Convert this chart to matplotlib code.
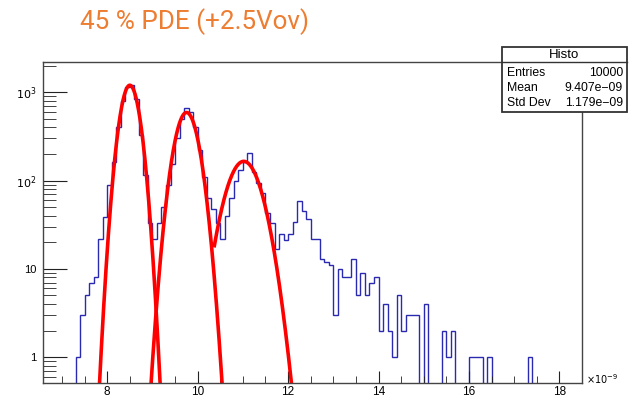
import numpy as np
import matplotlib
matplotlib.use("Agg")
import matplotlib.pyplot as plt
from matplotlib.patches import Rectangle
from matplotlib.lines import Line2D
from matplotlib.ticker import FixedLocator, FixedFormatter, MultipleLocator

# histogram: 0.1 wide bins starting at 7.3 (x 1e-9)
bin_start = 7.3
bin_width = 0.1
counts = [
    1, 3, 5, 7, 8, 22, 39, 88, 162, 400,          # 7.3 - 8.2
    800, 1150, 1200, 840, 330, 115, 33, 22, 33, 50,  # 8.3 - 9.2
    89, 155, 300, 500, 665, 590, 405, 220, 110, 63,  # 9.3 - 10.2
    48, 33, 22, 40, 63, 98, 131, 163, 205, 125,      # 10.3 - 11.2
    93, 72, 43, 33, 17, 25, 21, 25, 34, 58,          # 11.3 - 12.2
    45, 37, 22, 22, 13, 12, 11, 3, 10, 8,            # 12.3 - 13.2
    8, 13, 5, 9, 5, 7, 8, 2, 4, 2,                   # 13.3 - 14.2
    1, 5, 2, 3, 3, 3, 0, 4, 0, 0,                    # 14.3 - 15.2
    0, 2, 1, 2, 0, 0, 0, 1, 1, 1,                    # 15.3 - 16.2
    0, 1, 0, 0, 0, 0, 0, 0, 0, 0,                    # 16.3 - 17.2
    1,                                               # 17.3
]

# gaussian fits: constant, mean, sigma, fit range
fit_const = [1200, 590, 165]
fit_mean = [8.50, 9.755, 11.02]
fit_sigma = [0.170, 0.209, 0.31]
fit_lo = [7.5, 8.7, 10.37]
fit_hi = [9.5, 11.0, 12.6]

xticks = [8, 10, 12, 14, 16, 18]
yticks = [1, 10, 100, 1000]
ytick_labels = ["1", "10", "$10^{2}$", "$10^{3}$"]

title = "45 % PDE (+2.5Vov)"
stats_name = "Histo"
stats_rows = [("Entries", "10000"), ("Mean", "9.407e\u221209"), ("Std Dev", "1.179e\u221209")]

W, H = 634, 400
fig = plt.figure(figsize=(W / 100, H / 100), dpi=100)


def fx(px):
    return px / W


def fy(py):
    return 1 - py / H


ax = fig.add_axes([fx(43), fy(383), fx(582) - fx(43), fy(62) - fy(383)])

counts = np.array(counts, dtype=float)
edges = bin_start + bin_width * np.arange(len(counts) + 1)
ax.stairs(np.where(counts > 0, counts, 1e-2), edges, baseline=1e-2,
          color="#2a2ab0", lw=1.0)

for A, mu, sg, lo, hi in zip(fit_const, fit_mean, fit_sigma, fit_lo, fit_hi):
    xs = np.linspace(lo, hi, 400)
    ax.plot(xs, A * np.exp(-0.5 * ((xs - mu) / sg) ** 2), color="#ff0000", lw=2.6)

ax.set_yscale("log")
ax.set_xlim(6.58, 18.5)
ax.set_ylim(0.51, 2200)

ax.xaxis.set_major_locator(FixedLocator(xticks))
ax.xaxis.set_minor_locator(MultipleLocator(0.5))
ax.yaxis.set_major_locator(FixedLocator(yticks))
ax.yaxis.set_major_formatter(FixedFormatter(ytick_labels))
ax.tick_params(which="both", direction="in", top=False, right=False,
               labelsize=8, color="#222222")
ax.tick_params(axis="x", which="major", length=9, pad=2, labelsize=8.5)
ax.tick_params(axis="x", which="minor", length=5)
ax.tick_params(axis="y", which="major", length=17, pad=5)
ax.tick_params(axis="y", which="minor", length=9)
for lab in ax.get_xticklabels() + ax.get_yticklabels():
    lab.set_family("Liberation Sans")
for sp in ax.spines.values():
    sp.set_linewidth(1.0)
    sp.set_color("#444444")

fig.text(fx(586), fy(379), r"$\times10^{-9}$", fontsize=7, family="Liberation Sans",
         va="center", ha="left")

fig.text(fx(80), fy(22), title, color="#ed7d31", fontsize=18.7,
         family="Roboto", va="center", ha="left")

# stats box
bx0, by0, bx1, by1 = 502, 47, 627, 112
fig.add_artist(Rectangle((fx(bx0), fy(by1)), fx(bx1) - fx(bx0), fy(by0) - fy(by1),
                         transform=fig.transFigure, facecolor="white",
                         edgecolor="#333333", lw=1.3, zorder=5))
fig.add_artist(Line2D([fx(bx0), fx(bx1)], [fy(62), fy(62)], transform=fig.transFigure,
                      color="#333333", lw=1.0, zorder=6))
fig.text(fx((bx0 + bx1) / 2), fy(55), stats_name, fontsize=9.5, family="Liberation Sans",
         ha="center", va="center", zorder=7)
for i, (k, v) in enumerate(stats_rows):
    yy = 73 + 15 * i
    fig.text(fx(507), fy(yy), k, fontsize=8.8, family="Liberation Sans",
             ha="left", va="center", zorder=7)
    fig.text(fx(623), fy(yy), v, fontsize=8.8, family="Liberation Sans",
             ha="right", va="center", zorder=7)

fig.savefig("out.png", dpi=100)
